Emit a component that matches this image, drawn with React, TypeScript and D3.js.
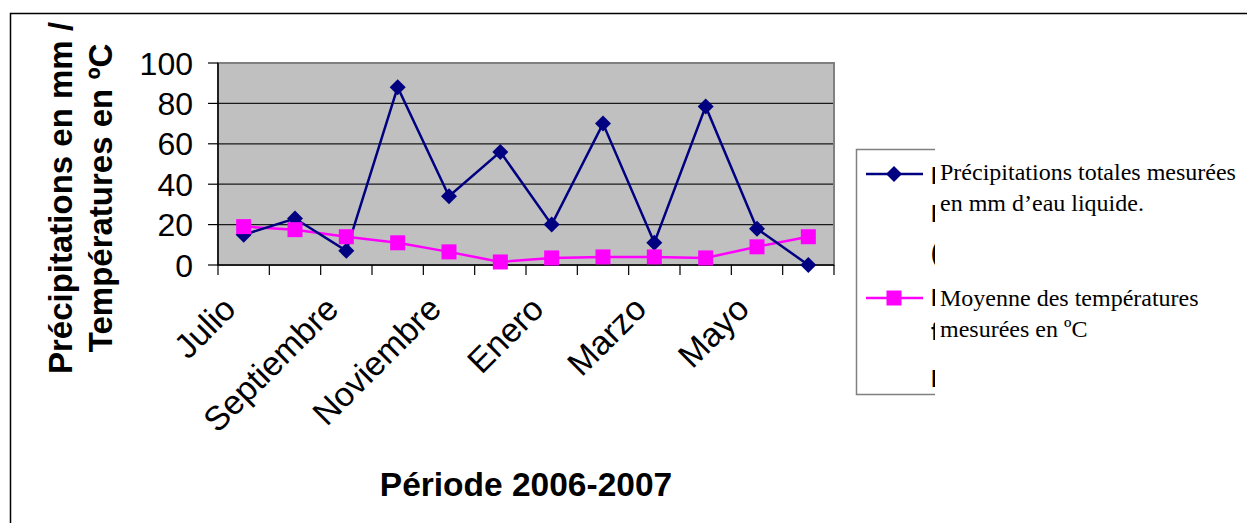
import { useEffect, useRef } from 'react';
import * as d3 from 'd3';

// monthly values, july 2006 -> june 2007
const months = ['Julio', 'Agosto', 'Septiembre', 'Octubre', 'Noviembre', 'Diciembre', 'Enero', 'Febrero', 'Marzo', 'Abril', 'Mayo', 'Junio'];
const precipitation = [15, 23, 7, 88, 34, 56, 20, 70, 11, 78.5, 18, 0];
const temperature = [19, 17.5, 14, 11, 6.5, 1.5, 3.5, 4, 4, 3.5, 9, 14];
const yTicks = [0, 20, 40, 60, 80, 100];

const yTitleLines = ['Précipitations en mm /', 'Températures en ºC'];
const xTitle = 'Période 2006-2007';
const precipLegend = ['Précipitations totales mesurées', 'en mm d\u2019eau liquide.'];
const tempLegend = ['Moyenne des températures', 'mesurées en ºC'];
// leftovers of the original legend text, cut off by the legend box
const clippedGlyphs = ['I', 'I', '(', 'I', 'f', 'I'];

const W = 1247;
const H = 523;

export default function App() {
  const svgRef = useRef<SVGSVGElement>(null);

  useEffect(() => {
    document.body.style.margin = '0';
    if (!svgRef.current) return;
    const svg = d3.select(svgRef.current);
    svg.selectAll('*').remove();

    const plot = { left: 218, right: 834, top: 63, bottom: 265 };
    const sans = 'Arial, "Liberation Sans", sans-serif';
    const serif = '"Times New Roman", "Liberation Serif", serif';

    // outer chart frame
    svg.append('rect')
      .attr('x', 10.5).attr('y', 13.5)
      .attr('width', W + 20).attr('height', H + 20)
      .attr('fill', 'none').attr('stroke', '#000').attr('stroke-width', 1.5);

    const x = d3.scaleBand().domain(months).range([plot.left, plot.right]);
    const y = d3.scaleLinear().domain([0, 100]).range([plot.bottom, plot.top]);
    const cx = (m: string) => (x(m) ?? 0) + x.bandwidth() / 2;

    // plot background
    svg.append('rect')
      .attr('x', plot.left).attr('y', plot.top)
      .attr('width', plot.right - plot.left).attr('height', plot.bottom - plot.top)
      .attr('fill', '#c0c0c0')
      .attr('stroke', '#808080').attr('stroke-width', 2);

    // gridlines
    svg.append('g').selectAll('line')
      .data(yTicks.filter(t => t > 0 && t < 100))
      .enter().append('line')
      .attr('x1', plot.left).attr('x2', plot.right - 1)
      .attr('y1', d => y(d)).attr('y2', d => y(d))
      .attr('stroke', '#1a1a1a').attr('stroke-width', 1.2);

    // y axis
    const yAxis = svg.append('g');
    yAxis.append('line')
      .attr('x1', plot.left).attr('x2', plot.left)
      .attr('y1', plot.top).attr('y2', plot.bottom)
      .attr('stroke', '#000').attr('stroke-width', 1.5);
    yAxis.selectAll('line.tick')
      .data(yTicks).enter().append('line')
      .attr('class', 'tick')
      .attr('x1', plot.left - 10).attr('x2', plot.left)
      .attr('y1', d => y(d)).attr('y2', d => y(d))
      .attr('stroke', '#000').attr('stroke-width', 1.2);
    yAxis.selectAll('text')
      .data(yTicks).enter().append('text')
      .attr('x', 193).attr('y', d => y(d) + 11.5)
      .attr('text-anchor', 'end')
      .style('font-family', sans).style('font-size', '32px').style('fill', '#000')
      .text(d => d);

    // x axis
    const xAxis = svg.append('g');
    xAxis.append('line')
      .attr('x1', plot.left).attr('x2', plot.right)
      .attr('y1', plot.bottom).attr('y2', plot.bottom)
      .attr('stroke', '#000').attr('stroke-width', 1.5);
    const bounds = months.map(m => x(m) ?? 0).concat([plot.right]);
    xAxis.selectAll('line.tick')
      .data(bounds).enter().append('line')
      .attr('class', 'tick')
      .attr('x1', d => d).attr('x2', d => d)
      .attr('y1', plot.bottom).attr('y2', plot.bottom + 10)
      .attr('stroke', '#000').attr('stroke-width', 1.2);
    xAxis.selectAll('text')
      .data(months.filter((_, i) => i % 2 === 0)).enter().append('text')
      .attr('transform', d => `translate(${cx(d) - 6},311) rotate(-45)`)
      .attr('text-anchor', 'end')
      .style('font-family', sans).style('font-size', '34px').style('fill', '#000')
      .text(d => d);

    // series
    const line = d3.line<number>()
      .x((_, i) => cx(months[i]))
      .y(d => y(d));

    svg.append('path')
      .datum(temperature)
      .attr('d', line)
      .attr('fill', 'none').attr('stroke', '#ff00ff').attr('stroke-width', 2.5);
    svg.append('path')
      .datum(precipitation)
      .attr('d', line)
      .attr('fill', 'none').attr('stroke', '#000080').attr('stroke-width', 2.5);

    const diamond = (px: number, py: number, r: number) =>
      `M${px},${py - r}L${px + r},${py}L${px},${py + r}L${px - r},${py}Z`;

    svg.append('g').selectAll('path')
      .data(precipitation).enter().append('path')
      .attr('d', (d, i) => diamond(cx(months[i]), y(d), 8))
      .attr('fill', '#000080');
    svg.append('g').selectAll('rect')
      .data(temperature).enter().append('rect')
      .attr('x', (_, i) => cx(months[i]) - 7.5)
      .attr('y', d => y(d) - 7.5)
      .attr('width', 15).attr('height', 15)
      .attr('fill', '#ff00ff');

    // titles
    svg.append('text')
      .attr('x', (plot.left + plot.right) / 2).attr('y', 496)
      .attr('text-anchor', 'middle')
      .style('font-family', sans).style('font-size', '33.5px').style('font-weight', 'bold')
      .text(xTitle);
    yTitleLines.forEach((t, i) => {
      svg.append('text')
        .attr('transform', `translate(${72 + i * 40},198) rotate(-90)`)
        .attr('text-anchor', 'middle')
        .style('font-family', sans).style('font-size', '33px').style('font-weight', 'bold')
        .text(t);
    });

    // legend
    const lg = { left: 856, top: 149, right: 935, bottom: 395 };
    svg.append('defs').append('clipPath').attr('id', 'legend-clip')
      .append('rect')
      .attr('x', lg.left).attr('y', lg.top)
      .attr('width', lg.right - lg.left).attr('height', lg.bottom - lg.top);
    svg.append('path')
      .attr('d', `M${lg.right},${lg.top + 0.5}H${lg.left + 0.5}V${lg.bottom - 0.5}H${lg.right}`)
      .attr('fill', 'none').attr('stroke', '#808080').attr('stroke-width', 1.5);

    const glyphY = [184, 222, 261, 306, 340, 387];
    svg.append('g').attr('clip-path', 'url(#legend-clip)')
      .selectAll('text')
      .data(clippedGlyphs).enter().append('text')
      .attr('x', 931).attr('y', (_, i) => glyphY[i])
      .style('font-family', sans).style('font-size', '24px').style('font-weight', 'bold')
      .text(d => d);

    svg.append('line')
      .attr('x1', 866).attr('x2', 923).attr('y1', 174).attr('y2', 174)
      .attr('stroke', '#000080').attr('stroke-width', 2.5);
    svg.append('path').attr('d', diamond(894, 174, 8)).attr('fill', '#000080');
    svg.append('line')
      .attr('x1', 866).attr('x2', 923).attr('y1', 298).attr('y2', 298)
      .attr('stroke', '#ff00ff').attr('stroke-width', 2.5);
    svg.append('rect')
      .attr('x', 894 - 7.5).attr('y', 298 - 7.5)
      .attr('width', 15).attr('height', 15).attr('fill', '#ff00ff');

    const legendText = (lines: string[], y0: number) => {
      lines.forEach((t, i) => {
        svg.append('text')
          .attr('x', 940).attr('y', y0 + i * 31)
          .style('font-family', serif).style('font-size', '24px').style('fill', '#000')
          .text(t);
      });
    };
    legendText(precipLegend, 180);
    legendText(tempLegend, 306);
  }, []);

  return (
    <svg
      ref={svgRef}
      width={W}
      height={H}
      style={{ position: 'absolute', left: 0, top: 0, background: '#fff' }}
    />
  );
}
